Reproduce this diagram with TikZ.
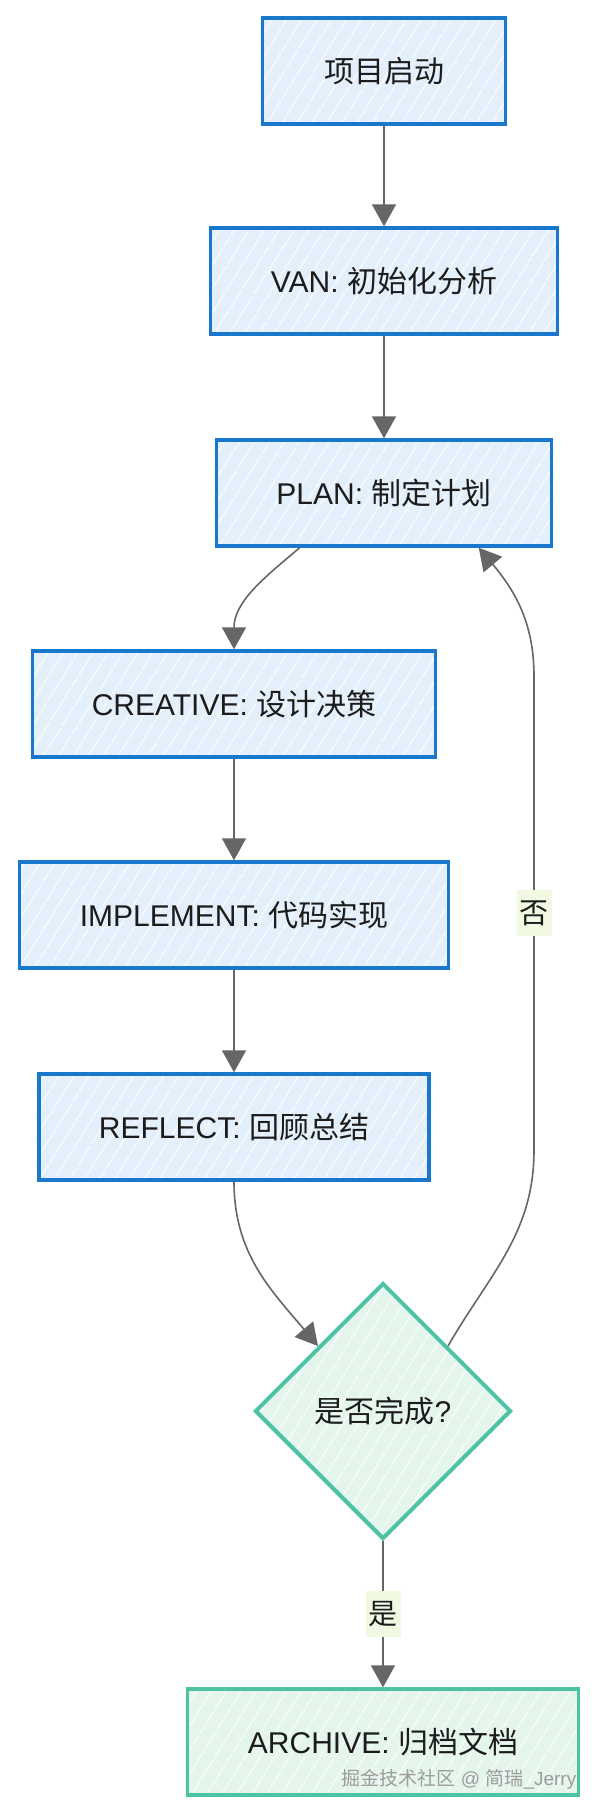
\documentclass[tikz,border=0pt]{standalone}
\usepackage{fontspec}
\setmainfont{Liberation Sans}
\newfontfamily\cjk{Noto Sans CJK SC}
\usetikzlibrary{shapes.geometric,arrows.meta,patterns.meta}
\definecolor{boxblue}{HTML}{1A78CC}
\definecolor{bluefill}{HTML}{E3EFFB}
\definecolor{boxgreen}{HTML}{4CC3A4}
\definecolor{greenfill}{HTML}{E4F5EC}
\definecolor{linkgray}{HTML}{666666}
\definecolor{lblfill}{HTML}{F2F9E2}
\definecolor{textdark}{HTML}{1C1C1C}
\newcommand{\hz}[1]{{\cjk #1}}
\tikzset{
  hatch/.style={pattern={Lines[angle=58,distance=6.5pt,line width=0.6pt]}, pattern color=white},
  bluebox/.style={rectangle, draw=boxblue, line width=1.7pt, preaction={fill=bluefill}, hatch,
    minimum height=53pt, text=textdark, font=\fontsize{15pt}{18pt}\selectfont},
  greenbox/.style={bluebox, draw=boxgreen, preaction={fill=greenfill}},
  check/.style={diamond, draw=boxgreen, line width=2pt, preaction={fill=greenfill}, hatch,
    minimum width=128pt, minimum height=128pt, inner sep=0pt, text=textdark,
    font=\fontsize{15pt}{18pt}\selectfont},
  flow/.style={draw=linkgray, line width=0.8pt, -{Triangle[width=12pt,length=11pt]}},
  lbl/.style={fill=lblfill, inner xsep=1.5pt, inner ysep=5pt, text=textdark,
    font=\fontsize{14.5pt}{16pt}\selectfont},
  wmark/.style={text=gray!70!black!60, font=\fontsize{9.5pt}{11pt}\selectfont}
}
\begin{document}
\begin{tikzpicture}[x=0.5pt,y=-0.5pt]
        \useasboundingbox (0,0) rectangle (597,1815);%
        % main steps
        \node[bluebox, minimum width=121.5pt] (start) at (384,71) {\hz{项目启动}};%
        \node[bluebox, minimum width=173.5pt] (van) at (384,281) {VAN: \hz{初始化分析}};%
        \node[bluebox, minimum width=167.5pt] (plan) at (384,493) {PLAN: \hz{制定计划}};%
        \node[bluebox, minimum width=201.5pt] (creative) at (234,704) {CREATIVE: \hz{设计决策}};%
        \node[bluebox, minimum width=214.5pt] (implement) at (234,915) {IMPLEMENT: \hz{代码实现}};%
        \node[bluebox, minimum width=195pt] (reflect) at (234,1127) {REFLECT: \hz{回顾总结}};%
        \node[check] (done) at (383,1411) {\hz{是否完成}?};%
        \node[greenbox, minimum width=195.5pt] (archive) at (383,1742) {ARCHIVE: \hz{归档文档}};%
        \node[wmark] (credit) at (459,1779) {\hz{掘金技术社区} @ \hz{简瑞}\_Jerry};%
        % links
        \draw[flow] (start) -- (van);%
        \draw[flow] (van) -- (plan);%
        \draw[flow] (plan.213) to[out=-140,in=90] (creative.north);%
        \draw[flow] (creative) -- (implement);%
        \draw[flow] (implement) -- (reflect);%
        \draw[flow] (reflect.south) to[out=-90,in=130] (done.north west);%
        \draw[flow] (done) -- node[lbl] {\hz{是}} (archive);%
        % loop back
        \coordinate (backlow) at (534,1150);%
        \coordinate (backtop) at (534,676);%
        \draw[flow] (done.north east) to[out=60,in=-90] (backlow) -- node[lbl] {\hz{否}} (backtop)
          to[out=90,in=-50] (plan.-30);%
\end{tikzpicture}
\end{document}
